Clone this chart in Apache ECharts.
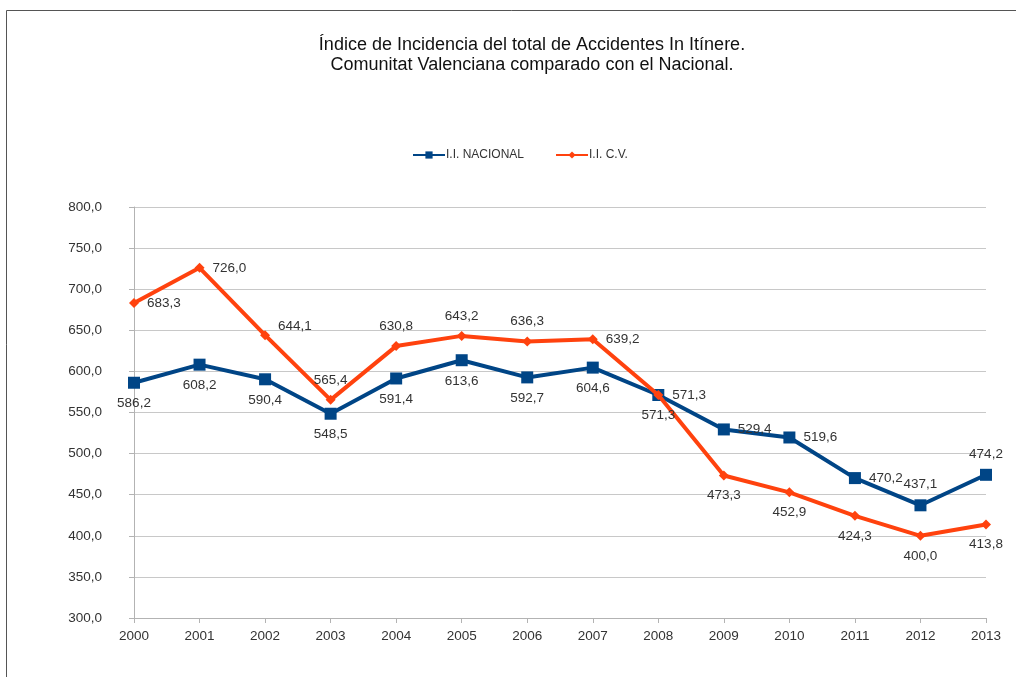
<!DOCTYPE html>
<html>
<head>
<meta charset="utf-8">
<script src="https://cdn.jsdelivr.net/npm/echarts@6/dist/echarts.min.js"></script>
<style>
  html, body { margin: 0; padding: 0; background: #fff; }
  #chart { width: 1016px; height: 677px; }
</style>
</head>
<body>
<div id="chart"></div>
<script>
const years = ['2000', '2001', '2002', '2003', '2004', '2005', '2006', '2007', '2008', '2009', '2010', '2011', '2012', '2013']
const nacional = [586.2, 608.2, 590.4, 548.5, 591.4, 613.6, 592.7, 604.6, 571.3, 529.4, 519.6, 470.2, 437.1, 474.2]
const cv = [683.3, 726.0, 644.1, 565.4, 630.8, 643.2, 636.3, 639.2, 571.3, 473.3, 452.9, 424.3, 400.0, 413.8]
// where each value label sits relative to its point
const nacionalPos = ['bottom', 'bottom', 'bottom', 'bottom', 'bottom', 'bottom', 'bottom', 'bottom', 'right', 'right', 'right', 'right', 'top', 'top']
const cvPos = ['right', 'right', 'right', 'top', 'top', 'top', 'top', 'right', 'bottom', 'bottom', 'bottom', 'bottom', 'bottom', 'bottom']

const fmt = v => v.toFixed(1).replace('.', ',')

function withLabels(values, positions, extra) {
  return values.map((v, i) => {
    const label = { position: positions[i] }
    if (extra && extra[i]) Object.assign(label, extra[i])
    return { value: v, label }
  })
}

const chart = echarts.init(document.getElementById('chart'))
chart.setOption({
  animation: false,
  textStyle: { fontFamily: 'Liberation Sans, Arial, sans-serif' },
  title: {
    text: 'Índice de Incidencia del total de Accidentes In Itínere.\nComunitat Valenciana comparado con el Nacional.',
    left: 527,
    top: 30,
    textAlign: 'center',
    textStyle: { fontSize: 18, fontWeight: 'normal', color: '#111', lineHeight: 20 }
  },
  graphic: [{
    type: 'rect',
    shape: { x: 6.5, y: 10.5, width: 1100, height: 800 },
    style: { fill: 'none', stroke: '#555', lineWidth: 1 },
    silent: true
  }],
  legend: {
    top: 144,
    left: 407,
    itemGap: 31,
    itemWidth: 32,
    itemHeight: 9,
    textStyle: { fontSize: 12, color: '#333', padding: [0, 0, 0, -4] },
    data: ['I.I. NACIONAL', 'I.I. C.V.']
  },
  grid: { left: 134, right: 30, top: 207, bottom: 59, containLabel: false },
  xAxis: {
    type: 'category',
    data: years,
    boundaryGap: false,
    axisLine: { lineStyle: { color: '#b3b3b3' } },
    axisTick: { show: true, length: 5, lineStyle: { color: '#b3b3b3' } },
    axisLabel: { fontSize: 13.5, color: '#333', margin: 11 },
    splitLine: { show: false }
  },
  yAxis: {
    type: 'value',
    min: 300,
    max: 800,
    interval: 50,
    axisLine: { show: true, lineStyle: { color: '#b3b3b3' } },
    axisTick: { show: true, length: 5, lineStyle: { color: '#b3b3b3' } },
    axisLabel: { fontSize: 13.5, color: '#333', margin: 32, formatter: v => fmt(v) },
    splitLine: { lineStyle: { color: '#c8c8c8' } }
  },
  series: [
    {
      name: 'I.I. NACIONAL',
      type: 'line',
      data: withLabels(nacional, nacionalPos),
      symbol: 'rect',
      symbolSize: 12,
      lineStyle: { width: 4, color: '#004586' },
      itemStyle: { color: '#004586' },
      label: { show: true, fontSize: 13.5, color: '#333', distance: 8, formatter: p => fmt(p.value) },
      z: 2
    },
    {
      name: 'I.I. C.V.',
      type: 'line',
      data: withLabels(cv, cvPos, { 2: { offset: [0, -9] } }),
      symbol: 'diamond',
      symbolSize: 10,
      lineStyle: { width: 4, color: '#ff420e' },
      itemStyle: { color: '#ff420e' },
      label: { show: true, fontSize: 13.5, color: '#333', distance: 8, formatter: p => fmt(p.value) },
      z: 3
    }
  ]
})
</script>
</body>
</html>
